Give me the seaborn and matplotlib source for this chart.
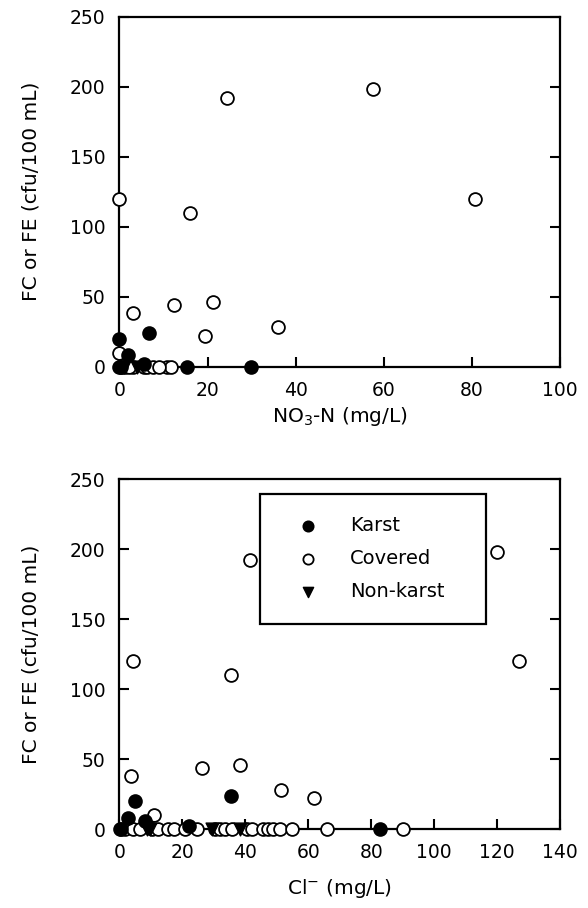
import numpy as np
import pandas as pd
import seaborn as sns
import matplotlib
matplotlib.use('Agg')
import matplotlib.pyplot as plt

# ---- panel 1 : NO3-N vs FC/FE ----
no3_karst_x = [0.0, 6.7, 0.0, 2.0, 5.7, 15.3, 29.8, 0.3]
no3_karst_y = [20, 24, 0, 8, 2, 0, 0, 0]
no3_cov_x = [0.0, 16.0, 80.8, 24.5, 57.6, 3.2, 12.4, 21.3, 19.5, 35.9, 0.0,
             0.4, 1.3, 3.2, 5.5, 6.2, 7.7, 10.7, 11.8, 2.2, 9.0]
no3_cov_y = [120, 110, 120, 192, 198, 38, 44, 46, 22, 28, 10,
             0, 0, 0, 0, 0, 0, 0, 0, 0, 0]
no3_non_x = [1.0, 4.0]
no3_non_y = [0, 0]

# ---- panel 2 : Cl vs FC/FE ----
cl_karst_x = [5.0, 2.9, 8.2, 35.5, 82.8, 0.5, 22.0]
cl_karst_y = [20, 8, 6, 24, 0, 0, 2]
cl_cov_x = [41.5, 119.9, 4.4, 35.4, 127.0, 3.6, 11.1, 26.4, 38.2, 51.3, 61.9,
            0.2, 1.8, 4.4, 6.6, 10.3, 12.4, 15.6, 17.2, 20.9, 24.6, 30.4,
            32.0, 33.6, 35.7, 40.4, 42.0, 45.7, 47.3, 48.9, 51.0, 54.8,
            65.9, 90.2]
cl_cov_y = [192, 198, 120, 110, 120, 38, 10, 44, 46, 28, 22,
            0, 0, 0, 0, 0, 0, 0, 0, 0, 0, 0,
            0, 0, 0, 0, 0, 0, 0, 0, 0, 0,
            0, 0]
cl_non_x = [8.7, 9.7, 29.3, 38.3]
cl_non_y = [0, 0, 0, 0]

sns.set_style('ticks')
plt.rcParams['font.family'] = ['DejaVu Sans']
plt.rcParams['text.color'] = 'black'
plt.rcParams['axes.labelcolor'] = 'black'

fig = plt.figure(figsize=(5.88, 9.08), dpi=100)
ax1 = fig.add_axes([0.203, 0.5962, 0.7495, 0.3855])
ax2 = fig.add_axes([0.203, 0.0867, 0.7495, 0.3855])


def draw(ax, kx, ky, cx, cy, nx, ny):
    sns.scatterplot(x=cx, y=cy, ax=ax, marker='o', s=85, color='white',
                    edgecolor='black', linewidth=1.3, clip_on=False,
                    zorder=3, label='Covered')
    sns.scatterplot(x=kx, y=ky, ax=ax, marker='o', s=85, color='black',
                    edgecolor='black', linewidth=1.3, clip_on=False,
                    zorder=4, label='Karst')
    sns.scatterplot(x=nx, y=ny, ax=ax, marker='v', s=85, color='black',
                    edgecolor='black', linewidth=1.0, clip_on=False,
                    zorder=5, label='Non-karst')
    ax.set_ylim(0, 250)
    ax.set_yticks(np.arange(0, 251, 50))
    ax.set_ylabel('FC or FE (cfu/100 mL)', fontsize=14.5, labelpad=21)
    ax.tick_params(direction='in', length=7, width=1.5, top=False, right=True,
                   labelsize=13.5, pad=10, colors='black')
    for sp in ax.spines.values():
        sp.set_linewidth(1.6)
        sp.set_color('black')
        sp.set_zorder(2)


draw(ax1, no3_karst_x, no3_karst_y, no3_cov_x, no3_cov_y, no3_non_x, no3_non_y)
ax1.set_xlim(0, 100)
ax1.set_xticks(np.arange(0, 101, 20))
ax1.set_xlabel('NO$_3$-N (mg/L)', fontsize=14.5, labelpad=4)
ax1.get_legend().remove()

draw(ax2, cl_karst_x, cl_karst_y, cl_cov_x, cl_cov_y, cl_non_x, cl_non_y)
ax2.set_xlim(0, 140)
ax2.set_xticks(np.arange(0, 141, 20))
ax2.set_xlabel('Cl$^{-}$ (mg/L)', fontsize=14.5, labelpad=11)

h, l = ax2.get_legend_handles_labels()
order = [l.index('Karst'), l.index('Covered'), l.index('Non-karst')]
leg = ax2.legend([h[i] for i in order], [l[i] for i in order],
                 loc='upper left', bbox_to_anchor=(0.319, 0.587, 0.513, 0.371),
                 mode='expand', fontsize=14, frameon=True, fancybox=False,
                 edgecolor='black', borderpad=1.15, labelspacing=0.72,
                 handlelength=2.6, handletextpad=0.9, borderaxespad=0,
                 markerscale=0.8)
leg.get_frame().set_linewidth(1.6)
leg.get_frame().set_alpha(1)

fig.savefig('out.png', dpi=100)
